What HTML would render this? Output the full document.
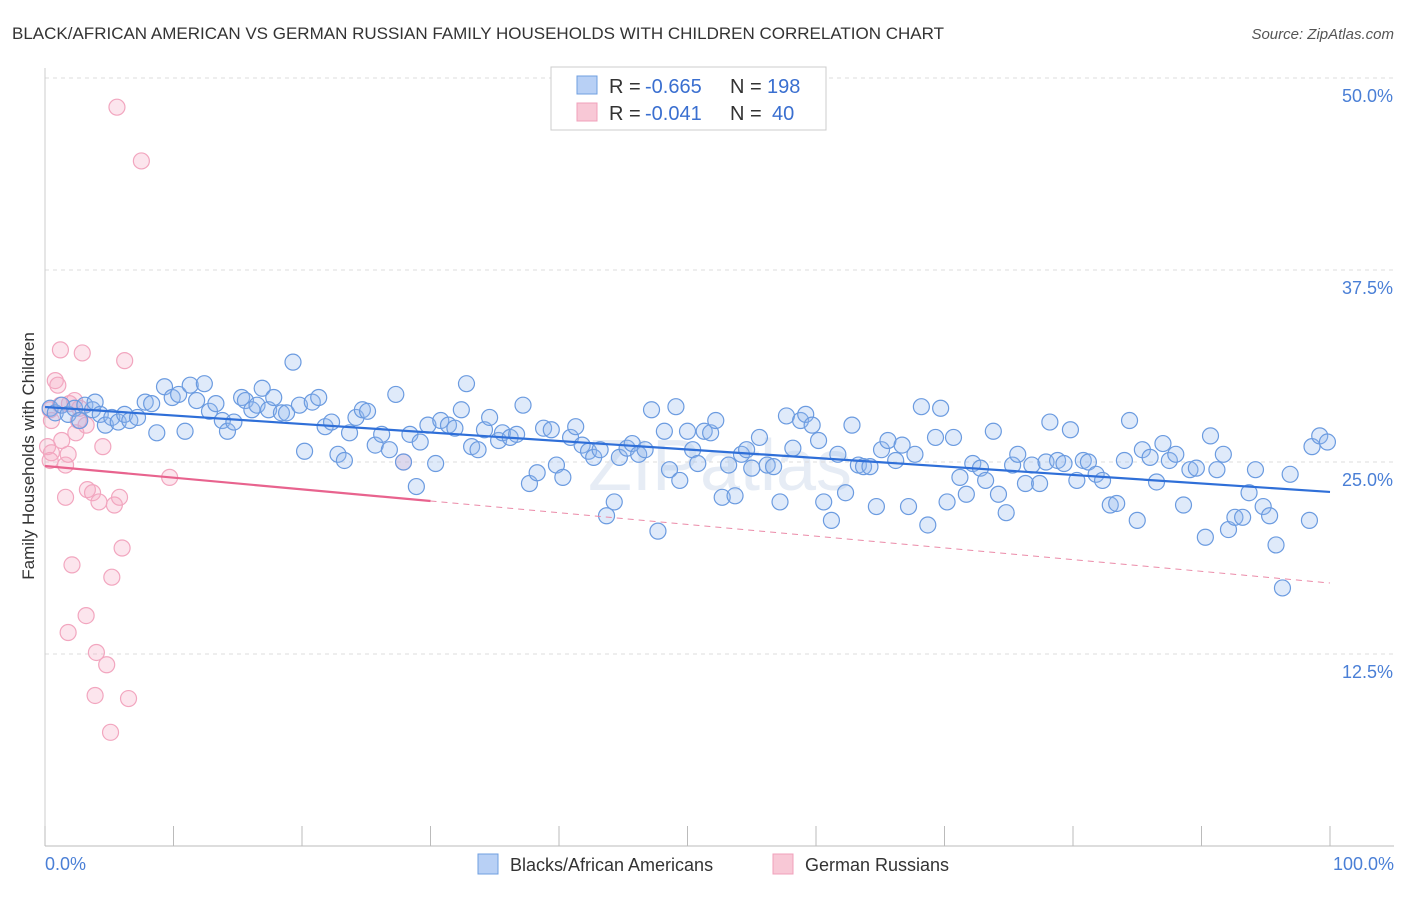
<!DOCTYPE html>
<html><head><meta charset="utf-8">
<style>
body{margin:0;background:#fff;font-family:"Liberation Sans",sans-serif;}
svg text{font-family:"Liberation Sans",sans-serif;}
</style></head>
<body>
<svg id="chart" width="1406" height="892" xmlns="http://www.w3.org/2000/svg">
<text x="12" y="39" font-size="17" fill="#333">BLACK/AFRICAN AMERICAN VS GERMAN RUSSIAN FAMILY HOUSEHOLDS WITH CHILDREN CORRELATION CHART</text>
<text x="1394" y="39" font-size="15" fill="#555" text-anchor="end" font-style="italic">Source: ZipAtlas.com</text>
<text x="720" y="490" font-size="72" fill="#e6ecf5" text-anchor="middle" font-family="Liberation Serif">ZIPatlas</text>
<g id="grid"></g>
<g id="axes"></g>
<g id="pink"></g>
<g id="blue"></g>
<g id="lines"></g>
<text transform="translate(34,456) rotate(-90)" font-size="17" fill="#333" text-anchor="middle">Family Households with Children</text>
<g>
<rect x="551" y="67" width="275" height="63" fill="#fff" stroke="#ccc"/>
<rect x="577" y="76" width="20" height="18" fill="#b8d0f5" stroke="#6f9fe0"/>
<rect x="577" y="103" width="20" height="18" fill="#f8c8d6" stroke="#f0a0bb"/>
<text x="609" y="93" font-size="20" fill="#333">R =</text>
<text x="645" y="93" font-size="20" fill="#3a6fd0">-0.665</text>
<text x="730" y="93" font-size="20" fill="#333">N =</text>
<text x="767" y="93" font-size="20" fill="#3a6fd0">198</text>
<text x="609" y="120" font-size="20" fill="#333">R =</text>
<text x="645" y="120" font-size="20" fill="#3a6fd0">-0.041</text>
<text x="730" y="120" font-size="20" fill="#333">N =</text>
<text x="772" y="120" font-size="20" fill="#3a6fd0">40</text>
</g>
<g>
<rect x="478" y="854" width="20" height="20" fill="#b8d0f5" stroke="#6f9fe0"/>
<text x="510" y="871" font-size="18" fill="#333">Blacks/African Americans</text>
<rect x="773" y="854" width="20" height="20" fill="#f8c8d6" stroke="#f0a0bb"/>
<text x="805" y="871" font-size="18" fill="#333">German Russians</text>
</g>
</svg>
<script>
const xTicks=[0,10,20,30,40,50,60,70,80,90,100];
const yTicks=[12.5,25,37.5,50];
const yTickLabels=["12.5%","25.0%","37.5%","50.0%"];
const blueTrend=[[0,28.58],[100,23.05]];
const pinkTrend=[[0,24.74],[30,22.46],[100,17.12]];
const blueData=[[0.4,28.5],[0.8,28.2],[1.3,28.7],[1.8,28.1],[2.3,28.5],[2.7,27.7],[3.1,28.7],[3.7,28.4],[3.9,28.9],[4.3,28.1],[4.7,27.4],[5.2,27.9],[5.7,27.6],[6.2,28.1],[6.6,27.7],[7.2,27.9],[7.8,28.9],[8.3,28.8],[8.7,26.9],[9.3,29.9],[9.9,29.2],[10.4,29.4],[10.9,27.0],[11.3,30.0],[11.8,29.0],[12.4,30.1],[12.8,28.3],[13.3,28.8],[13.8,27.7],[14.2,27.0],[14.7,27.6],[15.3,29.2],[15.6,29.0],[16.1,28.4],[16.5,28.7],[16.9,29.8],[17.4,28.4],[17.8,29.2],[18.4,28.2],[18.8,28.2],[19.3,31.5],[19.8,28.7],[20.2,25.7],[20.8,28.9],[21.3,29.2],[21.8,27.3],[22.3,27.6],[22.8,25.5],[23.3,25.1],[23.7,26.9],[24.2,27.9],[24.7,28.4],[25.1,28.3],[25.7,26.1],[26.2,26.8],[26.8,25.8],[27.3,29.4],[27.9,25.0],[28.4,26.8],[28.9,23.4],[29.2,26.3],[29.8,27.4],[30.4,24.9],[30.8,27.7],[31.4,27.4],[31.9,27.2],[32.4,28.4],[32.8,30.1],[33.2,26.0],[33.7,25.8],[34.2,27.1],[34.6,27.9],[35.3,26.4],[35.6,26.9],[36.2,26.6],[36.7,26.8],[37.2,28.7],[37.7,23.6],[38.3,24.3],[38.8,27.2],[39.4,27.1],[39.8,24.8],[40.3,24.0],[40.9,26.6],[41.3,27.3],[41.8,26.1],[42.3,25.7],[42.7,25.3],[43.2,25.8],[43.7,21.5],[44.3,22.4],[44.7,25.3],[45.3,25.9],[45.7,26.2],[46.2,25.5],[46.7,25.8],[47.2,28.4],[47.7,20.5],[48.2,27.0],[48.6,24.5],[49.1,28.6],[49.4,23.8],[50.0,27.0],[50.4,25.8],[50.8,24.9],[51.3,27.0],[51.8,26.9],[52.2,27.7],[52.7,22.7],[53.2,24.8],[53.7,22.8],[54.2,25.5],[54.6,25.8],[55.0,24.6],[55.6,26.6],[56.2,24.8],[56.7,24.7],[57.2,22.4],[57.7,28.0],[58.2,25.9],[58.8,27.7],[59.2,28.1],[59.7,27.4],[60.2,26.4],[60.6,22.4],[61.2,21.2],[61.7,25.5],[62.3,23.0],[62.8,27.4],[63.3,24.8],[63.7,24.7],[64.2,24.7],[64.7,22.1],[65.1,25.8],[65.6,26.4],[66.2,25.1],[66.7,26.1],[67.2,22.1],[67.7,25.5],[68.2,28.6],[68.7,20.9],[69.3,26.6],[69.7,28.5],[70.2,22.4],[70.7,26.6],[71.2,24.0],[71.7,22.9],[72.2,24.9],[72.8,24.6],[73.2,23.8],[73.8,27.0],[74.2,22.9],[74.8,21.7],[75.3,24.8],[75.7,25.5],[76.3,23.6],[76.8,24.8],[77.4,23.6],[77.9,25.0],[78.2,27.6],[78.8,25.1],[79.3,24.9],[79.8,27.1],[80.3,23.8],[80.8,25.1],[81.2,25.0],[81.8,24.2],[82.3,23.8],[82.9,22.2],[83.4,22.3],[84.0,25.1],[84.4,27.7],[85.0,21.2],[85.4,25.8],[86.0,25.3],[86.5,23.7],[87.0,26.2],[87.5,25.1],[88.0,25.5],[88.6,22.2],[89.1,24.5],[89.6,24.6],[90.3,20.1],[90.7,26.7],[91.2,24.5],[91.7,25.5],[92.1,20.6],[92.6,21.4],[93.2,21.4],[93.7,23.0],[94.2,24.5],[94.8,22.1],[95.3,21.5],[95.8,19.6],[96.3,16.8],[96.9,24.2],[98.4,21.2],[98.6,26.0],[99.2,26.7],[99.8,26.3]];
const pinkData=[[5.6,48.1],[7.5,44.6],[0.4,28.4],[0.5,27.7],[0.2,26.0],[0.5,25.6],[0.4,25.1],[0.8,30.3],[1.0,30.0],[1.2,32.3],[1.3,26.4],[1.6,24.8],[1.6,22.7],[1.8,25.5],[1.9,28.8],[2.1,18.3],[1.8,13.9],[2.3,29.0],[2.4,26.9],[2.7,28.5],[2.9,32.1],[3.2,27.4],[3.3,23.2],[3.7,23.0],[3.9,9.8],[4.0,12.6],[4.2,22.4],[4.5,26.0],[4.8,11.8],[5.1,7.4],[5.2,17.5],[5.4,22.2],[5.8,22.7],[6.0,19.4],[6.2,31.6],[6.5,9.6],[9.7,24.0],[27.9,25.0],[1.2,28.7],[2.6,27.7],[3.2,15.0]];

const NS="http://www.w3.org/2000/svg";
const X0=45,X1=1330,Y0=846,YPER=192/12.5;
function X(v){return X0+(X1-X0)*v/100;}
function Y(v){return Y0-v*YPER;}
function mk(tag,attrs,parent){const e=document.createElementNS(NS,tag);for(const k in attrs)e.setAttribute(k,attrs[k]);document.getElementById(parent).appendChild(e);return e;}

const axisLine=mk('line',{x1:X0,y1:Y0,x2:1394,y2:Y0,stroke:'#bbb'},'axes');


const yLine=mk('line',{x1:X0,y1:68,x2:X0,y2:Y0,stroke:'#ccc'},'axes');


xTicks.forEach(t=>{
  const l=mk('line',{x1:X(t),y1:Y0-20,x2:X(t),y2:Y0,stroke:'#bbb'},'axes');
  
  
});
const xl0=mk('text',{x:45,y:870,'font-size':18,fill:'#4a7fd6'},'axes');xl0.textContent='0.0%';


const xl1=mk('text',{x:1394,y:870,'font-size':18,fill:'#4a7fd6','text-anchor':'end'},'axes');xl1.textContent='100.0%';


yTicks.forEach((t,i)=>{
  const g=mk('line',{x1:X0,y1:Y(t),x2:1394,y2:Y(t),stroke:'#ddd','stroke-dasharray':'4,4'},'grid');
  
  
  const tx=mk('text',{x:1393,y:Y(t)+24,'font-size':18,fill:'#4a7fd6','text-anchor':'end'},'axes');
  tx.textContent=yTickLabels[i];
  
  
});
pinkData.forEach(d=>{
  const c=mk('circle',{cx:X(d[0]),cy:Y(d[1]),r:8,fill:'rgba(245,170,195,0.3)',stroke:'#f2a6bf','stroke-width':1.2},'pink');
  
  
});
blueData.forEach(d=>{
  const c=mk('circle',{cx:X(d[0]),cy:Y(d[1]),r:8,fill:'rgba(150,185,240,0.3)',stroke:'#6b9be0','stroke-width':1.2},'blue');
  
  
});
const bl=mk('line',{x1:X(blueTrend[0][0]),y1:Y(blueTrend[0][1]),x2:X(blueTrend[1][0]),y2:Y(blueTrend[1][1]),stroke:'#2f6fd8','stroke-width':2.2},'lines');


const pl=mk('line',{x1:X(pinkTrend[0][0]),y1:Y(pinkTrend[0][1]),x2:X(pinkTrend[1][0]),y2:Y(pinkTrend[1][1]),stroke:'#e8638e','stroke-width':2.2},'lines');


const pd=mk('line',{x1:X(pinkTrend[1][0]),y1:Y(pinkTrend[1][1]),x2:X(pinkTrend[2][0]),y2:Y(pinkTrend[2][1]),stroke:'#eb8aa8','stroke-width':1,'stroke-dasharray':'6,5'},'lines');


</script>
</body></html>
